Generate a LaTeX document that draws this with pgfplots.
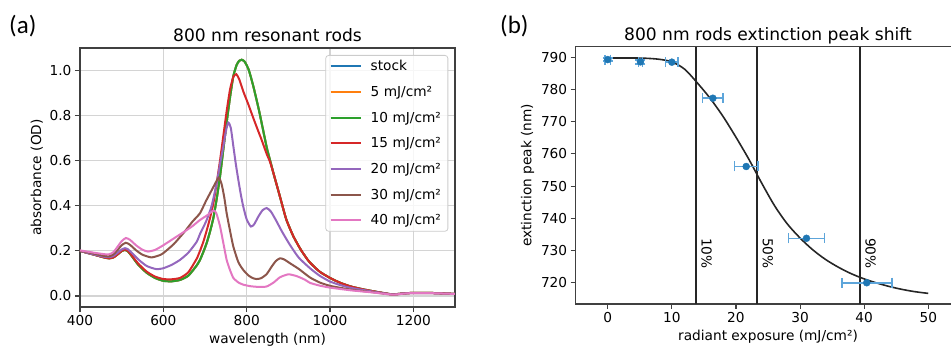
\documentclass[border=0pt]{standalone}
\usepackage{pgfplots}
\usepackage{pgfplotstable}
\pgfplotsset{compat=1.18}
\usepackage{fontspec}
\setmainfont{DejaVu Sans}
\newfontfamily\labfont{Carlito}

\definecolor{c1}{HTML}{1F77B4}
\definecolor{c2}{HTML}{FF7F0E}
\definecolor{c3}{HTML}{2CA02C}
\definecolor{c4}{HTML}{D62728}
\definecolor{c5}{HTML}{9467BD}
\definecolor{c6}{HTML}{8C564B}
\definecolor{c7}{HTML}{E377C2}
\definecolor{errc}{HTML}{5DA5DA}

\pgfplotstableread{
wl a
400 0.200
420 0.190
440 0.180
460 0.170
470 0.167
480 0.171
490 0.184
500 0.199
508 0.204
515 0.198
525 0.175
540 0.138
560 0.103
580 0.080
600 0.067
620 0.065
640 0.071
660 0.090
680 0.135
688 0.160
696 0.195
704 0.235
712 0.285
720 0.345
728 0.430
736 0.530
744 0.650
752 0.770
760 0.880
768 0.975
776 1.025
782 1.043
788 1.048
795 1.040
805 1.003
816 0.930
830 0.820
848 0.660
856 0.603
865 0.540
880 0.440
895 0.340
912 0.265
930 0.205
950 0.152
975 0.108
1000 0.080
1025 0.058
1050 0.042
1075 0.031
1100 0.022
1125 0.014
1150 0.007
1175 0.011
1200 0.014
1225 0.014
1250 0.013
1275 0.011
1300 0.009
}\tten

\pgfplotstableread{
wl a
400 0.200
420 0.190
440 0.180
460 0.170
470 0.167
480 0.171
490 0.184
500 0.200
508 0.206
515 0.200
525 0.178
540 0.143
560 0.108
580 0.086
600 0.075
620 0.074
640 0.080
660 0.105
680 0.165
688 0.200
696 0.240
704 0.290
712 0.345
720 0.410
728 0.500
736 0.600
744 0.710
752 0.820
760 0.915
768 0.972
775 0.984
782 0.962
792 0.907
804 0.850
816 0.789
826 0.740
836 0.692
848 0.630
856 0.595
865 0.540
880 0.440
895 0.340
912 0.265
930 0.205
950 0.152
975 0.108
1000 0.080
1025 0.058
1050 0.042
1075 0.031
1100 0.022
1125 0.014
1150 0.007
1175 0.011
1200 0.014
1225 0.014
1250 0.013
1275 0.011
1300 0.009
}\tfifteen

\pgfplotstableread{
wl a
400 0.200
420 0.190
440 0.181
460 0.173
470 0.172
480 0.177
490 0.191
500 0.206
508 0.212
515 0.207
525 0.190
540 0.162
560 0.133
583 0.119
600 0.123
620 0.138
640 0.160
660 0.192
680 0.240
688 0.275
696 0.305
704 0.337
716 0.400
728 0.500
736 0.585
744 0.663
750 0.730
756 0.769
762 0.745
768 0.665
774 0.585
780 0.515
786 0.450
792 0.395
800 0.340
810 0.308
818 0.318
828 0.352
838 0.380
848 0.390
858 0.375
870 0.337
885 0.285
904 0.226
925 0.170
952 0.123
975 0.090
1000 0.064
1025 0.048
1050 0.036
1100 0.020
1150 0.007
1175 0.011
1200 0.013
1250 0.012
1300 0.009
}\ttwenty

\pgfplotstableread{
wl a
400 0.200
420 0.193
440 0.185
460 0.177
470 0.176
480 0.184
490 0.203
500 0.225
510 0.236
520 0.227
535 0.202
550 0.183
571 0.171
590 0.180
600 0.190
625 0.230
651 0.285
670 0.330
688 0.367
702 0.420
712 0.455
722 0.490
733 0.525
740 0.495
746 0.440
752 0.367
760 0.290
768 0.219
780 0.150
792 0.115
805 0.090
815 0.079
824 0.075
835 0.079
848 0.097
860 0.130
870 0.155
880 0.167
890 0.162
904 0.145
925 0.120
952 0.082
975 0.060
1000 0.045
1050 0.028
1100 0.017
1150 0.006
1175 0.010
1200 0.013
1250 0.012
1300 0.009
}\tthirty

\pgfplotstableread{
wl a
400 0.202
420 0.196
440 0.190
460 0.185
470 0.185
480 0.194
490 0.218
500 0.243
510 0.257
520 0.249
535 0.224
550 0.205
563 0.197
580 0.204
600 0.225
625 0.255
651 0.286
670 0.310
688 0.337
707 0.360
720 0.379
727 0.368
736 0.310
744 0.235
752 0.160
760 0.115
768 0.080
780 0.060
792 0.050
810 0.043
830 0.040
848 0.042
865 0.060
880 0.083
900 0.096
920 0.088
940 0.072
952 0.058
975 0.046
1000 0.037
1050 0.025
1100 0.016
1150 0.006
1175 0.010
1200 0.013
1250 0.012
1300 0.009
}\tforty

\pgfplotstableread{
x y
0 789.8
2 789.8
4 789.8
6 789.7
8 789.4
10 788.6
12 786.3
14 782.0
16 777.2
18 771.6
20 765.2
22 758.4
24 751.0
26 744.0
28 738.3
30 733.9
32 730.2
34 727.2
36 724.8
38 722.8
40 721.2
42 719.9
44 718.8
46 717.9
48 717.2
50 716.7
}\tfit

\pgfplotstableread{
x y ex ey
0 789.3 0.4 0.5
5.1 788.6 0.3 0.6
10.0 788.5 1.0 0.0
16.4 777.3 1.6 0.0
21.6 756.1 1.8 0.0
31.0 733.8 2.8 0.0
40.4 720.0 3.9 0.0
}\tpts

\pgfplotsset{
  mystyle/.style={
    scale only axis,
    tick align=outside, tick pos=left, major tick length=5pt,
    axis line style={black!75, line width=1.1pt},
    every tick/.style={black!75, line width=1.1pt},
    tick label style={font=\fontsize{13.7}{16}\selectfont},
    label style={font=\fontsize{13.7}{16}\selectfont},
    every axis title shift=0pt,
    title style={font=\fontsize{17.1}{20}\selectfont, at={(0.5,1)}, anchor=base, yshift=6.5pt},
    /pgf/number format/assume math mode=true,
  }
}

\begin{document}
\begin{tikzpicture}
\begin{axis}[mystyle,
  at={(80pt,-307pt)}, anchor=south west,
  width=375pt, height=259pt,
  xmin=400, xmax=1300, ymin=-0.049, ymax=1.1,
  xtick={400,600,800,1000,1200},
  ytick={0,0.2,0.4,0.6,0.8,1.0},
  yticklabel style={/pgf/number format/.cd, fixed, fixed zerofill, precision=1},
  xticklabel style={/pgf/number format/1000 sep={}},
  grid=major, major grid style={line width=1.1pt, black!17},
  xlabel={wavelength (nm)}, ylabel={absorbance (OD)},
  title={800 nm resonant rods},
  legend style={at={(1,1)}, anchor=north east, xshift=-6.7pt, yshift=-7pt,
    font=\fontsize{13.7}{16}\selectfont, draw=black!20, line width=0.8pt,
    rounded corners=3pt, fill=white, fill opacity=0.8, text opacity=1,
    row sep=14pt, inner xsep=4pt, inner ysep=5pt,
    nodes={inner xsep=3pt, inner ysep=0pt}},
  legend cell align=left,
  legend image code/.code={\draw[#1, line width=2pt] (0pt,0pt) -- (30pt,0pt); \path (36pt,0pt);},
  every axis plot/.append style={line width=2pt, smooth, tension=0.35},
]
\addplot[c1] table[x=wl, y=a] {\tten}; \addlegendentry{stock}
\addplot[c2] table[x=wl, y=a] {\tten}; \addlegendentry{5 mJ/cm²}
\addplot[c3] table[x=wl, y=a] {\tten}; \addlegendentry{10 mJ/cm²}
\addplot[c4] table[x=wl, y=a] {\tfifteen}; \addlegendentry{15 mJ/cm²}
\addplot[c5] table[x=wl, y=a] {\ttwenty}; \addlegendentry{20 mJ/cm²}
\addplot[c6] table[x=wl, y=a] {\tthirty}; \addlegendentry{30 mJ/cm²}
\addplot[c7] table[x=wl, y=a] {\tforty}; \addlegendentry{40 mJ/cm²}
\end{axis}

\begin{axis}[mystyle,
  at={(575.7pt,-304pt)}, anchor=south west,
  width=384.6pt, height=257.3pt,
  xmin=-5, xmax=55, ymin=713.4, ymax=793.3,
  xtick={0,10,20,30,40,50},
  ytick={720,730,740,750,760,770,780,790},
  xlabel={radiant exposure (mJ/cm²)}, ylabel={extinction peak (nm)},
  title={800 nm rods extinction peak shift},
]
\addplot[black!85, line width=1.6pt, smooth] table[x=x, y=y] {\tfit};
\addplot[black!85, line width=2pt] coordinates {(13.8,713.4) (13.8,793.3)};
\addplot[black!85, line width=2pt] coordinates {(23.35,713.4) (23.35,793.3)};
\addplot[black!85, line width=2pt] coordinates {(39.4,713.4) (39.4,793.3)};
\addplot[only marks, mark=*, mark size=3.5pt, color=c1,
  error bars/.cd, x dir=both, x explicit, y dir=both, y explicit,
  error bar style={color=errc, line width=1.6pt},
  error mark options={color=errc, line width=1.6pt, mark size=5pt, rotate=90}]
  table[x=x, y=y, x error=ex, y error=ey] {\tpts};
\node[rotate=-90, anchor=south west, inner sep=0pt, font=\fontsize{13.7}{16}\selectfont] at ([xshift=5pt]axis cs:13.8,733.9) {10\%};
\node[rotate=-90, anchor=south west, inner sep=0pt, font=\fontsize{13.7}{16}\selectfont] at ([xshift=5pt]axis cs:23.35,733.9) {50\%};
\node[rotate=-90, anchor=south west, inner sep=0pt, font=\fontsize{13.7}{16}\selectfont] at ([xshift=5pt]axis cs:39.4,733.9) {90\%};
\end{axis}

\node[anchor=base west, inner sep=0pt] at (9pt,-33.5pt) {\labfont\fontsize{25}{28}\selectfont (a)};
\node[anchor=base west, inner sep=0pt] at (500pt,-33.5pt) {\labfont\fontsize{25}{28}\selectfont (b)};

\pgfresetboundingbox
\path[use as bounding box] (0pt,0pt) rectangle (951pt,-347pt);
\end{tikzpicture}
\end{document}
